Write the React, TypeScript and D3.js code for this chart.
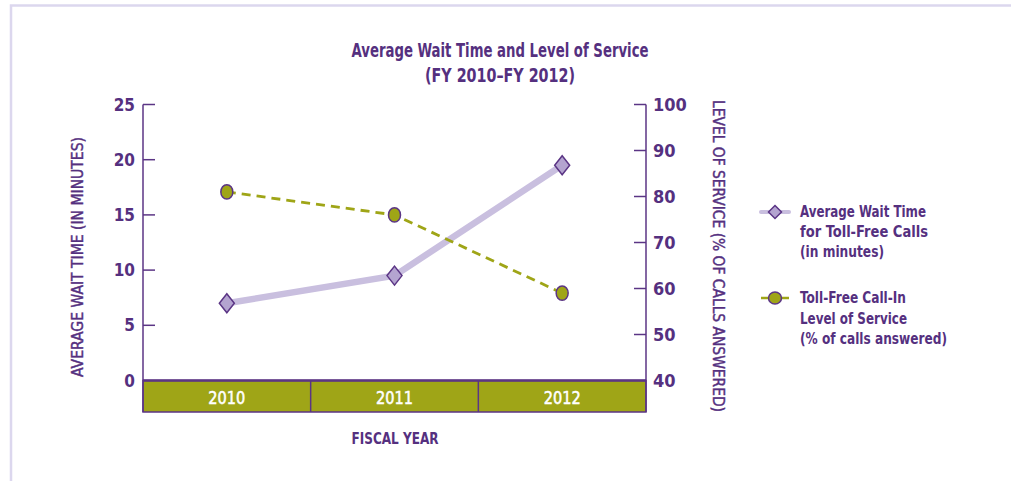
import React from "react";
import * as d3 from "d3";

const years = ["2010", "2011", "2012"];
const waitTime = [7.0, 9.5, 19.5];
const serviceLevel = [81, 76, 59];
const leftTicks = [0, 5, 10, 15, 20, 25];
const rightTicks = [40, 50, 60, 70, 80, 90, 100];
const legendWait = ["Average Wait Time", "for Toll-Free Calls", "(in minutes)"];
const legendWaitWidths = [126, 128, 84];
const legendService = ["Toll-Free Call-In", "Level of Service", "(% of calls answered)"];
const legendServiceWidths = [106, 107, 147];

const PURPLE = "#55307f";
const AXIS = "#5b3585";
const LAV_LINE = "#c9bfdf";
const LAV_FILL = "#b4a4d0";
const OLIVE = "#9fa517";
const FONT = "'Liberation Sans Narrow', 'DejaVu Sans Condensed', 'Roboto', sans-serif";

export default function App() {
  const W = 1011, H = 481;
  const x0 = 143, x1 = 646, yTop = 104.5, yBase = 380.5, bandBottom = 412;
  const x = d3.scaleBand<string>().domain(years).range([x0, x1]).padding(0);
  const cx = (y: string) => (x(y) as number) + x.bandwidth() / 2;
  const yL = d3.scaleLinear().domain([0, 25]).range([yBase, yTop]);
  const yR = d3.scaleLinear().domain([40, 100]).range([yBase, yTop]);

  const waitLine = d3.line<number>().x((_, i) => cx(years[i])).y((d) => yL(d))(waitTime) as string;
  const servLine = d3.line<number>().x((_, i) => cx(years[i])).y((d) => yR(d))(serviceLevel) as string;

  const diamond = (px: number, py: number) =>
    `M${px},${py - 9.5}L${px + 7.5},${py}L${px},${py + 9.5}L${px - 7.5},${py}Z`;

  return (
    <svg width={W} height={H} style={{ position: "absolute", left: 0, top: 0, background: "#fff" }} fontFamily={FONT}>
      {/* frame */}
      <path d={`M11,${H}V5.5H${W}`} fill="none" stroke="#dcd7ee" strokeWidth={2.5} />

      {/* title */}
      <text x={500} y={57} textAnchor="middle" fontSize={19} fontWeight={700} fill={PURPLE} textLength={297} lengthAdjust="spacingAndGlyphs">
        Average Wait Time and Level of Service
      </text>
      <text x={500} y={82} textAnchor="middle" fontSize={19} fontWeight={700} fill={PURPLE} textLength={150} lengthAdjust="spacingAndGlyphs">
        (FY 2010–FY 2012)
      </text>

      {/* band */}
      <rect x={x0} y={yBase} width={x1 - x0} height={bandBottom - yBase} fill={OLIVE} stroke={AXIS} strokeWidth={1.5} />
      {years.slice(1).map((yr) => (
        <line key={yr} x1={x(yr)} x2={x(yr)} y1={yBase} y2={bandBottom} stroke={AXIS} strokeWidth={1.5} />
      ))}
      {years.map((yr) => (
        <text key={yr} x={cx(yr)} y={404} textAnchor="middle" fontSize={17} fontWeight={400} fill="#fff" stroke="#fff" strokeWidth={0.5} textLength={37} lengthAdjust="spacingAndGlyphs">
          {yr}
        </text>
      ))}
      <line x1={x0} x2={x1} y1={yBase} y2={yBase} stroke={AXIS} strokeWidth={2.5} />

      {/* left axis */}
      <line x1={x0} x2={x0} y1={yTop} y2={bandBottom} stroke={AXIS} strokeWidth={1.5} />
      {leftTicks.map((t) => (
        <g key={t}>
          {t > 0 && <line x1={x0} x2={x0 + 12} y1={yL(t)} y2={yL(t)} stroke={AXIS} strokeWidth={1.5} />}
          <text x={135} y={yL(t) + 6} textAnchor="end" fontSize={17} fontWeight={600} fill={PURPLE}>
            {t}
          </text>
        </g>
      ))}
      <text transform={`translate(83,257) rotate(-90)`} textAnchor="middle" fontSize={15} fontWeight={400} fill={PURPLE} textLength={240} lengthAdjust="spacingAndGlyphs" stroke={PURPLE} strokeWidth={0.4}>
        AVERAGE WAIT TIME (IN MINUTES)
      </text>

      {/* right axis */}
      <line x1={x1} x2={x1} y1={yTop} y2={bandBottom} stroke={AXIS} strokeWidth={1.5} />
      {rightTicks.map((t) => (
        <g key={t}>
          {t > 40 && <line x1={x1 - 12} x2={x1} y1={yR(t)} y2={yR(t)} stroke={AXIS} strokeWidth={1.5} />}
          <text x={653} y={yR(t) + 6} textAnchor="start" fontSize={18} fontWeight={600} fill={PURPLE}>
            {t}
          </text>
        </g>
      ))}
      <text transform={`translate(713,256) rotate(90)`} textAnchor="middle" fontSize={15} fontWeight={400} fill={PURPLE} textLength={312} lengthAdjust="spacingAndGlyphs" stroke={PURPLE} strokeWidth={0.4}>
        LEVEL OF SERVICE (% OF CALLS ANSWERED)
      </text>

      <text x={395} y={444} textAnchor="middle" fontSize={15} fontWeight={700} fill={PURPLE} textLength={87} lengthAdjust="spacingAndGlyphs">
        FISCAL YEAR
      </text>

      {/* series */}
      <path d={waitLine} fill="none" stroke={LAV_LINE} strokeWidth={6.5} />
      <path d={servLine} fill="none" stroke={OLIVE} strokeWidth={2.8} strokeDasharray="9,6" />
      {waitTime.map((v, i) => (
        <path key={i} d={diamond(cx(years[i]), yL(v))} fill={LAV_FILL} stroke={AXIS} strokeWidth={1.5} />
      ))}
      {serviceLevel.map((v, i) => (
        <ellipse key={i} cx={cx(years[i])} cy={yR(v)} rx={6} ry={7.2} fill={OLIVE} stroke={AXIS} strokeWidth={1.5} />
      ))}

      {/* legend */}
      <line x1={761} x2={789} y1={212} y2={212} stroke={LAV_LINE} strokeWidth={4} strokeLinecap="round" />
      <path d={`M775,205.5L781.5,212L775,218.5L768.5,212Z`} fill={LAV_FILL} stroke={AXIS} strokeWidth={1.5} />
      {legendWait.map((s, i) => (
        <text key={s} x={800} y={217 + i * 20} fontSize={16.5} fontWeight={600} fill={PURPLE} textLength={legendWaitWidths[i]} lengthAdjust="spacingAndGlyphs">
          {s}
        </text>
      ))}
      <line x1={761} x2={789} y1={298} y2={298} stroke={OLIVE} strokeWidth={2.5} />
      <ellipse cx={775} cy={298} rx={6.5} ry={6} fill={OLIVE} stroke={AXIS} strokeWidth={1.5} />
      {legendService.map((s, i) => (
        <text key={s} x={800} y={303 + i * 20.5} fontSize={16.5} fontWeight={600} fill={PURPLE} textLength={legendServiceWidths[i]} lengthAdjust="spacingAndGlyphs">
          {s}
        </text>
      ))}
    </svg>
  );
}
